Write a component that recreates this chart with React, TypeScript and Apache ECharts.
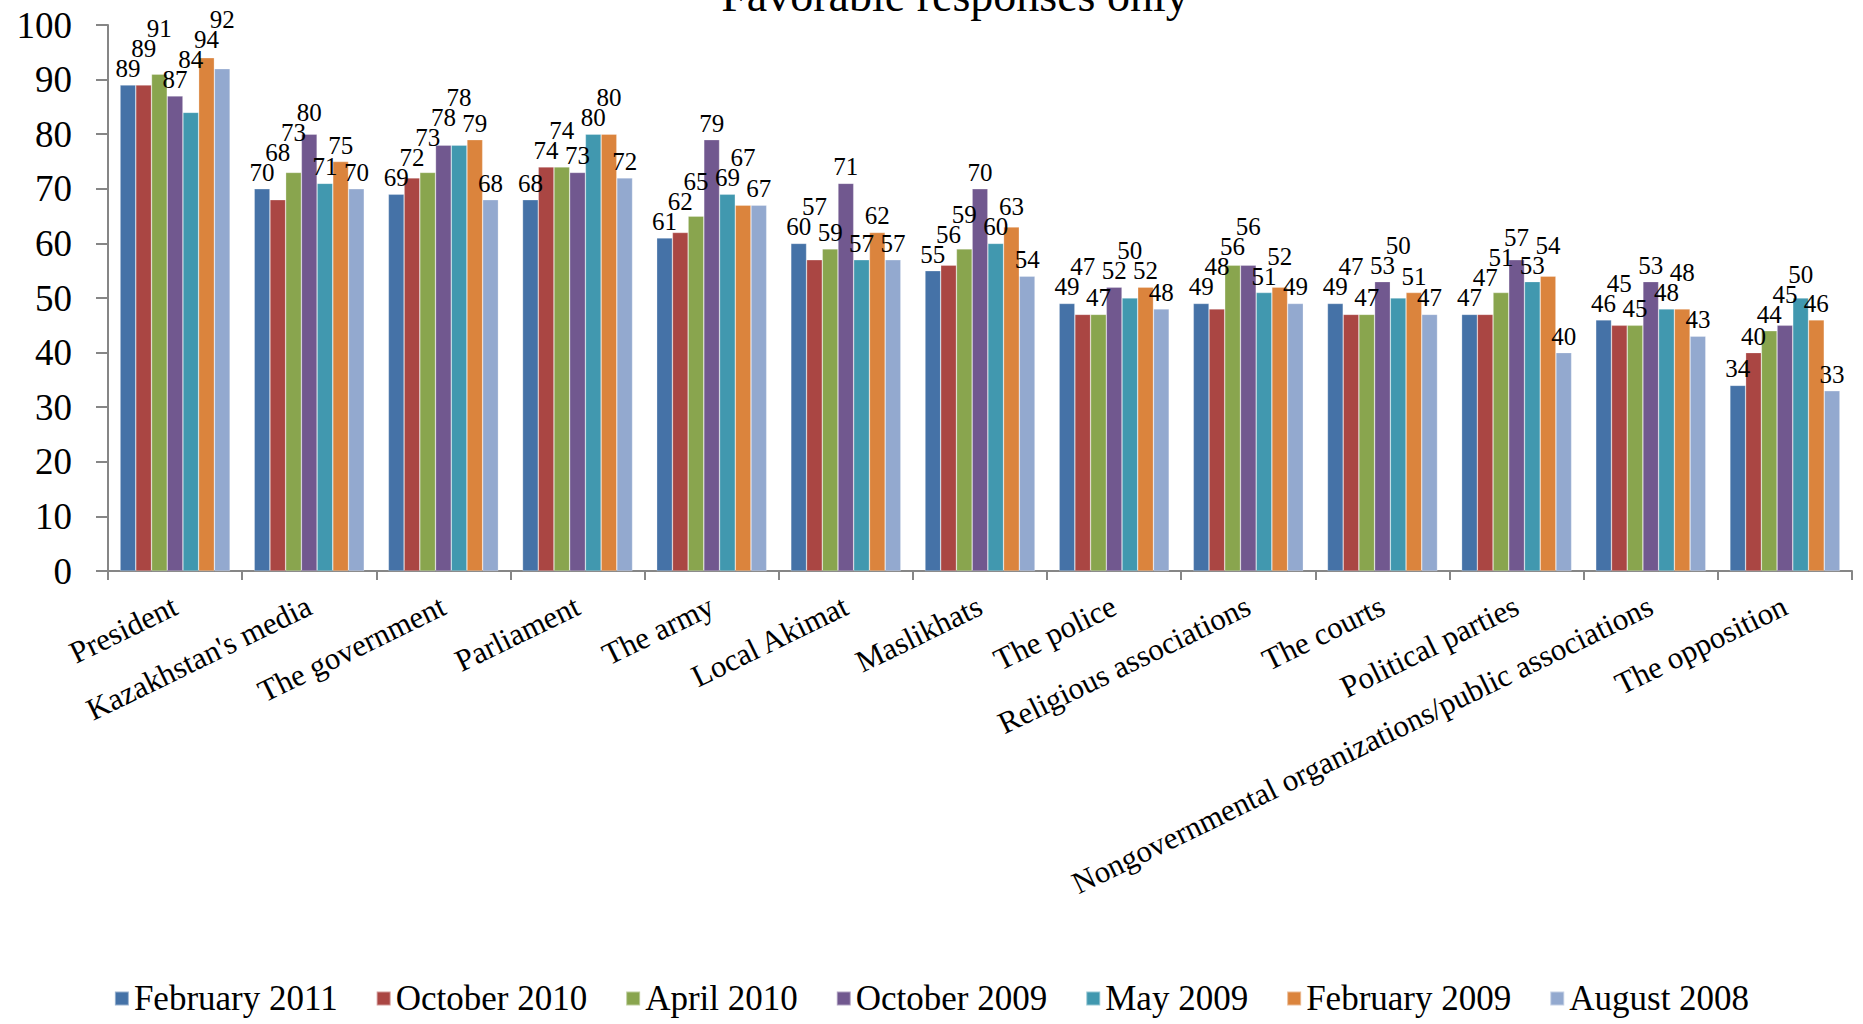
import React, { useEffect, useRef } from "react";
import * as echarts from "echarts";

const CATEGORIES = [
  "President",
  "Kazakhstan's media",
  "The government",
  "Parliament",
  "The army",
  "Local Akimat",
  "Maslikhats",
  "The police",
  "Religious associations",
  "The courts",
  "Political parties",
  "Nongovernmental organizations/public associations",
  "The opposition",
];

const SERIES_NAMES = [
  "February 2011",
  "October 2010",
  "April 2010",
  "October 2009",
  "May 2009",
  "February 2009",
  "August 2008",
];

const FEB_2011 = [89, 70, 69, 68, 61, 60, 55, 49, 49, 49, 47, 46, 34];
const OCT_2010 = [89, 68, 72, 74, 62, 57, 56, 47, 48, 47, 47, 45, 40];
const APR_2010 = [91, 73, 73, 74, 65, 59, 59, 47, 56, 47, 51, 45, 44];
const OCT_2009 = [87, 80, 78, 73, 79, 71, 70, 52, 56, 53, 57, 53, 45];
const MAY_2009 = [84, 71, 78, 80, 69, 57, 60, 50, 51, 50, 53, 48, 50];
const FEB_2009 = [94, 75, 79, 80, 67, 62, 63, 52, 52, 51, 54, 48, 46];
const AUG_2008 = [92, 70, 68, 72, 67, 57, 54, 48, 49, 47, 40, 43, 33];

const SERIES_VALUES = [FEB_2011, OCT_2010, APR_2010, OCT_2009, MAY_2009, FEB_2009, AUG_2008];

const COLORS = ["#4572A7", "#AA4643", "#89A54E", "#71588F", "#4198AF", "#DB843D", "#93A9CF"];

const FONT = "'Liberation Serif', 'Times New Roman', serif";

// Greedy label lifting (pixel offsets) to avoid overlapping labels within a group
function computeLifts(): number[][] {
  const PX_PER_UNIT = 546 / 100;
  const BAR_W = 15.7;
  const LABEL_W = 25;
  const LABEL_H = 20;
  const lifts = SERIES_VALUES.map((arr) => arr.map(() => 0));
  for (let c = 0; c < CATEGORIES.length; c++) {
    const placed: { x: number; b: number; t: number }[] = [];
    for (let s = 0; s < SERIES_VALUES.length; s++) {
      const x = s * BAR_W;
      const base = SERIES_VALUES[s][c] * PX_PER_UNIT + 4;
      let b = base;
      let moved = true;
      let guard = 0;
      while (moved && guard < 50) {
        moved = false;
        guard++;
        for (const p of placed) {
          if (Math.abs(p.x - x) < LABEL_W && b < p.t && b + LABEL_H > p.b) {
            b = p.t;
            moved = true;
          }
        }
      }
      placed.push({ x, b, t: b + LABEL_H });
      lifts[s][c] = b - base;
    }
  }
  return lifts;
}

export default function App() {
  const ref = useRef<HTMLDivElement>(null);
  useEffect(() => {
    if (!ref.current) return;
    const chart = echarts.init(ref.current, undefined, { renderer: "svg" });
    const lifts = computeLifts();
    const axisLineStyle = { color: "#868686", width: 2 };
    const option: any = {
      animation: false,
      backgroundColor: "#ffffff",
      title: {
        text: "Favorable responses only",
        left: 950,
        textAlign: "center",
        top: -33,
        textStyle: { fontFamily: FONT, fontSize: 46, fontWeight: "normal", color: "#000" },
      },
      grid: { left: 108, right: 11, top: 25, bottom: 453, containLabel: false },
      legend: {
        data: SERIES_NAMES,
        left: "center",
        top: 976,
        icon: "rect",
        itemWidth: 14,
        itemHeight: 14,
        itemGap: 38,
        textStyle: { fontFamily: FONT, fontSize: 35, color: "#000" },
      },
      xAxis: {
        type: "category",
        data: CATEGORIES,
        axisLine: { lineStyle: axisLineStyle },
        axisTick: { show: true, length: 9, lineStyle: axisLineStyle },
        axisLabel: {
          rotate: 26,
          interval: 0,
          margin: 33,
          fontFamily: FONT,
          fontSize: 31,
          color: "#000",
        },
      },
      yAxis: {
        type: "value",
        min: 0,
        max: 100,
        interval: 10,
        axisLine: { show: true, lineStyle: axisLineStyle },
        axisTick: { show: true, length: 12, lineStyle: axisLineStyle },
        splitLine: { show: false },
        axisLabel: { fontFamily: FONT, fontSize: 37, color: "#000", margin: 36 },
      },
      series: SERIES_VALUES.map((vals, s) => ({
        name: SERIES_NAMES[s],
        type: "bar",
        barGap: "0%",
        barCategoryGap: "18%",
        itemStyle: { color: COLORS[s], borderColor: "rgba(255,255,255,0.45)", borderWidth: 0.6 },
        label: {
          show: true,
          position: "top",
          distance: 4,
          fontFamily: FONT,
          fontSize: 25,
          color: "#000",
        },
        data: vals.map((v, c) => ({
          value: v,
          label: { offset: [0, -lifts[s][c]] },
        })),
      })),
    };
    chart.setOption(option);
    return () => chart.dispose();
  }, []);
  return (
    <div
      ref={ref}
      style={{ position: "fixed", left: 0, top: 0, width: "1863px", height: "1024px", background: "#fff" }}
    />
  );
}
